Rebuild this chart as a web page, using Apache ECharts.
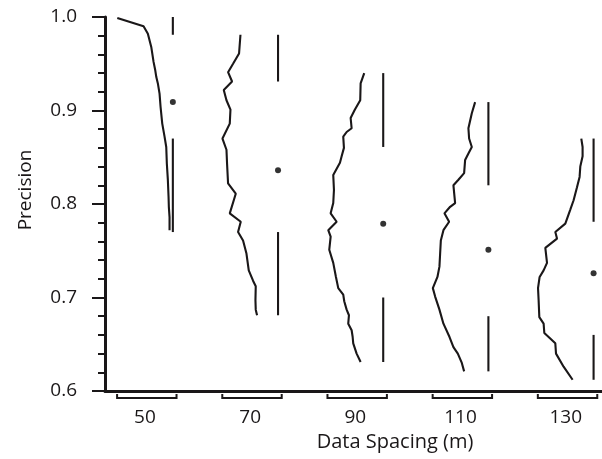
<!DOCTYPE html>
<html>
<head>
<meta charset="utf-8">
<script src="https://cdn.jsdelivr.net/npm/echarts@6/dist/echarts.min.js"></script>
<style>
html,body{margin:0;padding:0;background:#fff;}
#chart{width:602px;height:459px;}
</style>
</head>
<body>
<div id="chart"></div>
<script>
// ---- data ----
var spacing = [50, 70, 90, 110, 130];
var tickLabelsY = [0.6, 0.7, 0.8, 0.9, 1.0];

var medians = [0.909, 0.836, 0.779, 0.751, 0.726];
var maxima  = [1.000, 0.981, 0.940, 0.909, 0.870];
var upperQ  = [0.981, 0.931, 0.861, 0.820, 0.781];
var lowerQ  = [0.870, 0.770, 0.700, 0.680, 0.660];
var minima  = [0.770, 0.681, 0.631, 0.621, 0.612];

var prec50 = [0.999,0.990,0.982,0.968,0.952,0.943,0.936,0.929,0.918,0.904,0.886,0.872,0.861,0.843,0.826,0.808,0.797,0.786,0.772];
var dens50 = [5.56,2.93,2.50,2.16,1.93,1.76,1.66,1.50,1.33,1.23,1.06,0.83,0.66,0.60,0.50,0.43,0.40,0.33,0.33];

var prec70 = [0.981,0.961,0.950,0.941,0.931,0.922,0.911,0.901,0.886,0.870,0.858,0.843,0.822,0.811,0.790,0.781,0.770,0.761,0.747,0.729,0.718,0.712,0.697,0.687,0.681];
var dens70 = [3.76,3.90,4.50,5.00,4.60,5.43,5.16,4.76,4.83,5.56,5.16,5.10,5.00,4.23,4.83,3.73,4.00,3.50,3.16,2.93,2.50,2.23,2.26,2.23,2.10];

var prec90 = [0.940,0.929,0.911,0.901,0.892,0.881,0.877,0.872,0.860,0.851,0.844,0.831,0.815,0.801,0.790,0.781,0.772,0.765,0.751,0.737,0.722,0.710,0.703,0.696,0.687,0.681,0.672,0.665,0.658,0.651,0.640,0.631];
var dens90 = [1.90,2.26,2.30,2.83,3.26,3.16,3.66,4.00,3.93,4.16,4.33,5.00,4.93,5.00,5.26,4.66,5.50,5.26,5.40,5.00,4.73,4.50,4.00,3.90,3.66,3.43,3.50,3.16,3.06,3.00,2.66,2.26];

var prec110 = [0.909,0.897,0.881,0.870,0.861,0.854,0.847,0.833,0.826,0.820,0.801,0.797,0.790,0.781,0.772,0.761,0.747,0.733,0.722,0.710,0.701,0.687,0.672,0.658,0.647,0.640,0.630,0.621];
var dens110 = [1.33,1.66,2.00,1.93,1.66,2.00,2.33,2.43,3.00,3.50,3.33,3.83,4.40,3.93,4.50,4.76,4.83,4.90,5.10,5.56,5.33,4.90,4.50,3.90,3.50,3.06,2.66,2.43];

var prec130 = [0.870,0.861,0.851,0.840,0.829,0.818,0.811,0.804,0.794,0.779,0.770,0.763,0.753,0.737,0.729,0.722,0.710,0.697,0.679,0.672,0.662,0.651,0.640,0.626,0.612];
var dens130 = [1.23,1.10,1.10,1.33,1.40,1.66,1.83,2.00,2.33,2.83,3.83,3.66,4.83,4.66,5.00,5.40,5.56,5.50,5.43,5.00,4.93,3.83,3.76,3.00,2.10];

var precisions = [prec50, prec70, prec90, prec110, prec130];
var densities  = [dens50, dens70, dens90, dens110, dens130];

// ---- layout / style constants ----
var LINE_OFF = 5.3;      // range line position to the right of the group value (axis units)
var DENS_SCALE = 1.9;    // axis units per density unit
var BR_LEFT = -5.3, BR_RIGHT = 6.0;
var FONT = "'Open Sans', 'Noto Sans', sans-serif";
var INK = '#1a1718';
var LW = 2.1;

var series = [];

// density curves
spacing.forEach(function (s, i) {
  var pts = precisions[i].map(function (p, k) {
    return [s + LINE_OFF - densities[i][k] * DENS_SCALE, p];
  });
  series.push({
    type: 'line', data: pts, showSymbol: false, symbol: 'none',
    lineStyle: { color: INK, width: LW }, silent: true, animation: false
  });
});

// range lines (max..upperQ, lowerQ..min)
series.push({
  type: 'custom', animation: false, silent: true,
  data: spacing.map(function (s, i) { return [s + LINE_OFF, maxima[i], upperQ[i], lowerQ[i], minima[i]]; }),
  encode: { x: 0, y: [1, 2, 3, 4] },
  renderItem: function (params, api) {
    var x = api.value(0);
    var a = api.coord([x, api.value(1)]);
    var b = api.coord([x, api.value(2)]);
    var c = api.coord([x, api.value(3)]);
    var d = api.coord([x, api.value(4)]);
    var st = { stroke: INK, lineWidth: LW };
    return { type: 'group', children: [
      { type: 'line', shape: { x1: a[0], y1: a[1], x2: b[0], y2: b[1] }, style: st },
      { type: 'line', shape: { x1: c[0], y1: c[1], x2: d[0], y2: d[1] }, style: st }
    ] };
  }
});

// median dots
series.push({
  type: 'scatter', animation: false, silent: true,
  data: spacing.map(function (s, i) { return [s + LINE_OFF, medians[i]]; }),
  symbol: 'circle', symbolSize: 6, itemStyle: { color: '#000' }
});

// brackets under x axis
series.push({
  type: 'custom', animation: false, silent: true, clip: false,
  data: spacing.map(function (s) { return [s, 0.6]; }),
  renderItem: function (params, api) {
    var s = api.value(0);
    var l = api.coord([s + BR_LEFT, 0.6]);
    var r = api.coord([s + BR_RIGHT, 0.6]);
    var y = l[1];
    return { type: 'polyline', shape: { points: [[l[0], y + 3], [l[0], y + 7], [r[0], y + 7], [r[0], y + 3]] },
      style: { stroke: INK, lineWidth: 2, fill: null } };
  }
});

var chart = echarts.init(document.getElementById('chart'), null, { renderer: 'canvas' });
chart.setOption({
  animation: false,
  backgroundColor: '#fff',
  grid: { left: 105, right: 0, top: 17, bottom: 68, containLabel: false, outerBoundsMode: 'none' },
  xAxis: {
    type: 'value', min: 42.4, max: 136.9,
    splitLine: { show: false },
    axisLine: { lineStyle: { color: INK, width: 3 } },
    axisTick: { show: false },
    axisLabel: { customValues: spacing, margin: 17, fontSize: 19, fontFamily: FONT, color: INK,
      formatter: function (v) { return String(v); } },
    name: 'Data Spacing (m)', nameLocation: 'middle', nameGap: 37,
    nameTextStyle: { fontSize: 20, fontFamily: FONT, color: INK, padding: [0, 0, 0, 83] }
  },
  yAxis: {
    type: 'value', min: 0.6, max: 1.0, interval: 0.1,
    splitLine: { show: false },
    axisLine: { lineStyle: { color: INK, width: 3 } },
    axisTick: { show: true, length: 13, lineStyle: { color: INK, width: 2 } },
    minorTick: { show: true, splitNumber: 5, length: 7, lineStyle: { color: INK, width: 2 } },
    axisLabel: { margin: 28, fontSize: 19, fontFamily: FONT, color: INK,
      formatter: function (v) {
        var t = tickLabelsY.filter(function (q) { return Math.abs(q - v) < 1e-6; });
        return t.length ? t[0].toFixed(1) : '';
      } },
    name: 'Precision', nameLocation: 'middle', nameGap: 70,
    nameTextStyle: { fontSize: 19, fontFamily: FONT, color: INK, padding: [0, 0, 0, 28] }
  },
  series: series
});
</script>
</body>
</html>
